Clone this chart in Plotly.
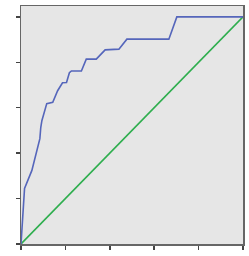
import plotly.graph_objects as go

# ROC curve (false positive rate, true positive rate)
fpr = [0.0, 0.016, 0.049, 0.062, 0.085, 0.089, 0.094, 0.116, 0.129, 0.143, 0.165,
       0.187, 0.205, 0.218, 0.227, 0.272, 0.294, 0.339, 0.379, 0.441, 0.477,
       0.666, 0.702, 1.0]
tpr = [0.0, 0.245, 0.324, 0.376, 0.464, 0.513, 0.543, 0.618, 0.622, 0.624, 0.675,
       0.710, 0.711, 0.754, 0.762, 0.762, 0.814, 0.814, 0.855, 0.858, 0.902,
       0.902, 1.0, 1.0]
ref_x = [0.0, 1.0]
ref_y = [0.0, 1.0]
tick_vals = [0.0, 0.2, 0.4, 0.6, 0.8, 1.0]

fig = go.Figure()
fig.add_trace(go.Scatter(x=ref_x, y=ref_y, mode="lines",
                         line=dict(color="#2eae4e", width=1.6), showlegend=False))
fig.add_trace(go.Scatter(x=fpr, y=tpr, mode="lines",
                         line=dict(color="#5566bb", width=1.6), showlegend=False))

axis_common = dict(showgrid=False, zeroline=False, showticklabels=False,
                   ticks="outside", ticklen=4, tickwidth=1.5, tickcolor="#444",
                   tickvals=tick_vals, showline=True, linecolor="#666",
                   linewidth=1.5, mirror=True)
fig.update_xaxes(range=[0, 1.0], **axis_common)
fig.update_yaxes(range=[0, 1.048], **axis_common)

fig.update_layout(width=249, height=256,
                  margin=dict(l=21, r=4, t=5, b=12),
                  plot_bgcolor="#e6e6e6", paper_bgcolor="white",
                  hovermode=False)

fig.write_html("out.html",
               config={"displayModeBar": False, "staticPlot": True},
               post_script="document.body.style.margin='0px';document.body.style.overflow='hidden';")
